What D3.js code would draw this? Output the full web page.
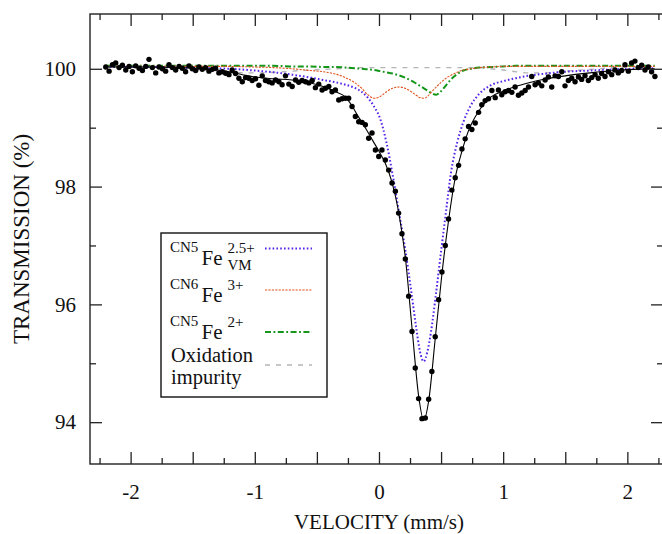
<!DOCTYPE html>
<html>
<head>
<meta charset="utf-8">
<script src="https://cdn.jsdelivr.net/npm/d3@7"></script>
<style>
  html, body { margin: 0; padding: 0; background: #ffffff; }
  svg { display: block; }
</style>
</head>
<body>
<svg id="chart" width="662" height="534"></svg>
<script>
// Room-temperature Mössbauer spectrum: measured channels, total fit and sub-spectra.

// Measured velocity channels (mm/s)
const velocity = [
  -2.200, -2.173, -2.146, -2.120, -2.093, -2.066, -2.039, -2.012, -1.986, -1.959,
  -1.932, -1.905, -1.878, -1.852, -1.825, -1.798, -1.771, -1.744, -1.718, -1.691,
  -1.664, -1.637, -1.610, -1.584, -1.557, -1.530, -1.503, -1.476, -1.450, -1.423,
  -1.396, -1.369, -1.342, -1.316, -1.289, -1.262, -1.235, -1.208, -1.182, -1.155,
  -1.128, -1.101, -1.074, -1.048, -1.021, -0.994, -0.967, -0.940, -0.914, -0.887,
  -0.860, -0.833, -0.806, -0.780, -0.753, -0.726, -0.699, -0.672, -0.646, -0.619,
  -0.592, -0.565, -0.538, -0.512, -0.485, -0.458, -0.431, -0.404, -0.378, -0.351,
  -0.324, -0.297, -0.270, -0.244, -0.217, -0.190, -0.163, -0.136, -0.110, -0.083,
  -0.056, -0.029, -0.002, 0.024, 0.051, 0.078, 0.105, 0.132, 0.158, 0.185,
  0.212, 0.239, 0.266, 0.292, 0.319, 0.346, 0.373, 0.400, 0.426, 0.453,
  0.480, 0.507, 0.534, 0.560, 0.587, 0.614, 0.641, 0.668, 0.694, 0.721,
  0.748, 0.775, 0.802, 0.828, 0.855, 0.882, 0.909, 0.936, 0.962, 0.989,
  1.016, 1.043, 1.070, 1.096, 1.123, 1.150, 1.177, 1.204, 1.230, 1.257,
  1.284, 1.311, 1.338, 1.364, 1.391, 1.418, 1.445, 1.472, 1.498, 1.525,
  1.552, 1.579, 1.606, 1.632, 1.659, 1.686, 1.713, 1.740, 1.766, 1.793,
  1.820, 1.847, 1.874, 1.900, 1.927, 1.954, 1.981, 2.008, 2.034, 2.061,
  2.088, 2.115, 2.142, 2.168, 2.195, 2.222
];

// Measured transmission (%)
const transmission = [
  100.03, 99.96, 100.07, 100.10, 100.02, 100.06, 99.98, 100.04, 99.95, 100.05,
  100.01, 99.97, 100.04, 100.16, 100.02, 99.93, 100.03, 100.00, 99.96, 100.07,
  100.02, 99.98, 100.04, 100.01, 99.95, 100.05, 100.00, 99.97, 100.03, 99.99,
  100.02, 99.96, 99.99, 100.01, 99.93, 99.95, 99.925, 99.90, 99.98, 99.92,
  99.84, 99.78, 99.85, 99.84, 99.80, 99.83, 99.72, 99.88, 99.80, 99.78,
  99.76, 99.81, 99.78, 99.73, 99.88, 99.74, 99.70, 99.81, 99.77, 99.80,
  99.78, 99.76, 99.80, 99.68, 99.74, 99.64, 99.67, 99.70, 99.61, 99.64,
  99.47, 99.49, 99.50, 99.50, 99.36, 99.19, 99.10, 99.09, 99.05, 98.82,
  98.91, 98.62, 98.51, 98.62, 98.45, 98.28, 98.06, 97.92, 97.55, 97.20,
  96.77, 96.14, 95.54, 94.92, 94.40, 94.06, 94.07, 94.39, 94.86, 95.45,
  96.08, 96.55, 97.00, 97.45, 97.94, 98.15, 98.36, 98.64, 98.81, 99.02,
  98.97, 99.08, 99.26, 99.39, 99.46, 99.49, 99.63, 99.51, 99.64, 99.56,
  99.61, 99.63, 99.60, 99.69, 99.55, 99.59, 99.63, 99.69, 99.87, 99.73,
  99.76, 99.71, 99.81, 99.86, 99.69, 99.88, 99.87, 99.95, 99.71, 99.80,
  99.84, 99.78, 99.86, 99.82, 99.88, 99.80, 99.85, 99.90, 99.84, 99.92,
  99.87, 99.95, 99.90, 99.98, 99.93, 99.97, 100.07, 99.96, 100.10, 100.13,
  100.02, 100.06, 99.98, 100.03, 99.95, 99.87
];

// Velocities at which the sub-spectra are tabulated (mm/s)
const curveVelocity = [
  -2.2, -1.9, -1.6, -1.4, -1.2, -1.0, -0.85, -0.7, -0.55, -0.45,
  -0.35, -0.27, -0.2, -0.14, -0.09, -0.04, 0.01, 0.06, 0.11, 0.16,
  0.21, 0.26, 0.3, 0.33, 0.36, 0.39, 0.42, 0.46, 0.5, 0.54,
  0.58, 0.63, 0.68, 0.74, 0.81, 0.9, 1.0, 1.1, 1.2, 1.35,
  1.5, 1.7, 1.9, 2.05, 2.22
];

// CN5 Fe 2.5+ (valence-mixed) sub-spectrum
const feVM = [
  100.03, 100.03, 100.02, 100.01, 100.0, 99.97, 99.94, 99.90, 99.85, 99.81,
  99.77, 99.73, 99.68, 99.61, 99.51, 99.36, 99.15, 98.75, 98.2, 97.58,
  96.95, 96.22, 95.6, 95.2, 95.03, 95.2, 95.55, 96.2, 96.9, 97.58,
  98.24, 98.75, 99.1, 99.38, 99.58, 99.72, 99.79, 99.84, 99.88, 99.92,
  99.95, 99.97, 99.99, 100.0, 100.01
];

// CN6 Fe 3+ doublet
const fe3 = [
  100.04, 100.04, 100.04, 100.04, 100.04, 100.03, 100.02, 100.0, 99.97, 99.95,
  99.91, 99.85, 99.77, 99.67, 99.56, 99.50, 99.53, 99.61, 99.67, 99.69,
  99.67, 99.61, 99.55, 99.51, 99.50, 99.53, 99.60, 99.69, 99.77, 99.84,
  99.89, 99.94, 99.98, 100.0, 100.02, 100.03, 100.04, 100.04, 100.04, 100.04,
  100.04, 100.04, 100.04, 100.04, 100.04
];

// CN5 Fe 2+ component
const fe2 = [
  100.05, 100.05, 100.05, 100.05, 100.05, 100.05, 100.05, 100.04, 100.04, 100.03,
  100.03, 100.02, 100.01, 100.0, 99.99, 99.98, 99.96, 99.94, 99.92, 99.89,
  99.85, 99.80, 99.75, 99.71, 99.67, 99.63, 99.59, 99.56, 99.62, 99.72,
  99.82, 99.91, 99.97, 100.0, 100.02, 100.03, 100.04, 100.05, 100.05, 100.05,
  100.05, 100.05, 100.05, 100.05, 100.05
];

// Oxidation impurity doublet
const impurity = [
  100.04, 100.03, 100.01, 99.98, 99.94, 99.93, 99.94, 99.96, 99.98, 99.99,
  100.0, 100.01, 100.02, 100.02, 100.02, 100.02, 100.02, 100.02, 100.02, 100.02,
  100.02, 100.02, 100.02, 100.02, 100.02, 100.02, 100.02, 100.02, 100.02, 100.02,
  100.02, 100.02, 100.02, 100.02, 100.02, 100.0, 99.98, 99.95, 99.93, 99.93,
  99.96, 99.99, 100.02, 100.03, 100.03
];

// Total fitted envelope
const fitVelocity = [
  -2.2, -1.9, -1.6, -1.4, -1.24, -1.1, -1.0, -0.85, -0.7, -0.55,
  -0.45, -0.35, -0.27, -0.22, -0.17, -0.11, -0.05, 0.0, 0.05, 0.105,
  0.158, 0.212, 0.266, 0.319, 0.36, 0.4, 0.453, 0.507, 0.56, 0.614,
  0.668, 0.721, 0.8, 0.9, 1.0, 1.1, 1.2, 1.35, 1.5, 1.7,
  1.9, 2.05, 2.22
];
const fitTotal = [
  100.03, 100.03, 100.02, 100.0, 99.96, 99.9, 99.86, 99.83, 99.81, 99.76,
  99.70, 99.61, 99.52, 99.38, 99.2, 99.0, 98.78, 98.6, 98.4, 98.07,
  97.57, 96.8, 95.6, 94.45, 94.03, 94.36, 95.42, 96.52, 97.42, 98.15,
  98.6, 98.95, 99.27, 99.52, 99.62, 99.70, 99.76, 99.83, 99.88, 99.93,
  99.97, 99.99, 100.0
];

// Axis ticks
const xMajorTicks = [-2, -1.5, -1, -0.5, 0, 0.5, 1, 1.5, 2];
const xMinorTicks = [-2.25, -1.75, -1.25, -0.75, -0.25, 0.25, 0.75, 1.25, 1.75, 2.25];
const yMajorTicks = [94, 96, 98, 100];
const yMinorTicks = [95, 97, 99];

// Legend entries
const legendItems = [
  { pre: "CN5", sup: "2.5+", sub: "VM", color: "#5524e8", dash: "1.6,2.2", width: 2 },
  { pre: "CN6", sup: "3+",   sub: "",   color: "#e0531f", dash: "2.2,1.2", width: 1.1 },
  { pre: "CN5", sup: "2+",   sub: "",   color: "#15961a", dash: "6,2.5,1.8,2.5", width: 2 },
  { lines: ["Oxidation", "impurity"], color: "#b5b5b5", dash: "5,6", width: 1.4 }
];

const SERIF = "Liberation Serif, Times New Roman, Times, DejaVu Serif, Liberation Sans, sans-serif";
const plot = { left: 90, right: 663, top: 14, bottom: 464 };

const x = d3.scaleLinear().domain([-2.327, 2.287]).range([plot.left, plot.right]);
const y = d3.scaleLinear().domain([93.29, 100.93]).range([plot.bottom, plot.top]);

const svg = d3.select("#chart").style("font-family", SERIF);

// Sub-spectra
const series = [
  { values: impurity, style: legendItems[3] },
  { values: fe2, style: legendItems[2] },
  { values: fe3, style: legendItems[1] },
  { values: feVM, style: legendItems[0] }
];

const curveLine = d3.line()
  .x(d => x(d[0]))
  .y(d => y(d[1]))
  .curve(d3.curveMonotoneX);

svg.append("g").attr("class", "components")
  .selectAll("path")
  .data(series)
  .join("path")
  .attr("d", s => curveLine(curveVelocity.map((v, i) => [v, s.values[i]])))
  .attr("fill", "none")
  .attr("stroke", s => s.style.color)
  .attr("stroke-width", s => s.style.width)
  .attr("stroke-dasharray", s => s.style.dash);

// Total fit
svg.append("path")
  .attr("d", curveLine(fitVelocity.map((v, i) => [v, fitTotal[i]])))
  .attr("fill", "none")
  .attr("stroke", "#000")
  .attr("stroke-width", 1.1);

// Measured points
svg.append("g").attr("class", "points")
  .selectAll("circle")
  .data(velocity.map((v, i) => [v, transmission[i]]))
  .join("circle")
  .attr("cx", d => x(d[0]))
  .attr("cy", d => y(d[1]))
  .attr("r", 2.7)
  .attr("fill", "#000");

// Axes: inward ticks on all four sides
const fontSize = 21;
function styleAxis(g) {
  g.attr("font-family", null).attr("font-size", null);
  g.select(".domain").remove();
  g.selectAll(".tick line").attr("stroke", "#222").attr("stroke-width", 1.3);
  g.selectAll("text").attr("fill", "#111")
    .style("font-family", SERIF).style("font-size", fontSize + "px");
}
const labelFmt = d => Number.isInteger(d) ? String(d) : "";

svg.append("g").attr("transform", `translate(0,${plot.bottom})`)
  .call(d3.axisBottom(x).tickValues(xMajorTicks).tickSize(-12).tickPadding(20).tickFormat(labelFmt))
  .call(styleAxis);
svg.append("g").attr("transform", `translate(0,${plot.bottom})`)
  .call(d3.axisBottom(x).tickValues(xMinorTicks).tickSize(-6).tickFormat(""))
  .call(styleAxis);
svg.append("g").attr("transform", `translate(0,${plot.top})`)
  .call(d3.axisTop(x).tickValues(xMajorTicks).tickSize(-12).tickFormat(""))
  .call(styleAxis);
svg.append("g").attr("transform", `translate(0,${plot.top})`)
  .call(d3.axisTop(x).tickValues(xMinorTicks).tickSize(-6).tickFormat(""))
  .call(styleAxis);

svg.append("g").attr("transform", `translate(${plot.left},0)`)
  .call(d3.axisLeft(y).tickValues(yMajorTicks).tickSize(-12).tickPadding(14).tickFormat(d => String(d)))
  .call(styleAxis);
svg.append("g").attr("transform", `translate(${plot.left},0)`)
  .call(d3.axisLeft(y).tickValues(yMinorTicks).tickSize(-6).tickFormat(""))
  .call(styleAxis);
svg.append("g").attr("transform", `translate(${plot.right},0)`)
  .call(d3.axisRight(y).tickValues(yMajorTicks).tickSize(-12).tickFormat(""))
  .call(styleAxis);
svg.append("g").attr("transform", `translate(${plot.right},0)`)
  .call(d3.axisRight(y).tickValues(yMinorTicks).tickSize(-6).tickFormat(""))
  .call(styleAxis);

// Frame
svg.append("rect")
  .attr("x", plot.left).attr("y", plot.top)
  .attr("width", plot.right - plot.left).attr("height", plot.bottom - plot.top)
  .attr("fill", "none").attr("stroke", "#222").attr("stroke-width", 1.4);

// Axis titles
svg.append("text")
  .attr("x", x(0)).attr("y", 529)
  .attr("text-anchor", "middle")
  .style("font-family", SERIF).style("font-size", fontSize + "px")
  .attr("fill", "#111")
  .text("VELOCITY (mm/s)");
svg.append("text")
  .attr("transform", `translate(29,${(plot.top + plot.bottom) / 2}) rotate(-90)`)
  .attr("text-anchor", "middle")
  .style("font-family", SERIF).style("font-size", "23px")
  .attr("fill", "#111")
  .text("TRANSMISSION (%)");

// Legend
const legend = svg.append("g").attr("class", "legend").attr("fill", "#111");
legend.append("rect")
  .attr("x", 161).attr("y", 233).attr("width", 166).attr("height", 164)
  .attr("fill", "#fff").attr("stroke", "#111").attr("stroke-width", 1.4);

function legendText(xp, yp, size, s) {
  legend.append("text").attr("x", xp).attr("y", yp)
    .style("font-family", SERIF).style("font-size", size + "px").text(s);
}
const rowBase = [265, 301.5, 339, 362];
const sampleY = [248.5, 290, 332, 365];
legendItems.forEach((item, i) => {
  if (item.lines) {
    item.lines.forEach((s, j) => legendText(171, rowBase[i] + j * 21.5, 20.5, s));
  } else {
    legendText(170, rowBase[i] - 13, 15, item.pre);
    legendText(201.5, rowBase[i], fontSize, "Fe");
    legendText(227.5, rowBase[i] - 12, 15, item.sup);
    if (item.sub) legendText(227.5, rowBase[i] + 5, 15, item.sub);
  }
  legend.append("line")
    .attr("x1", 265).attr("x2", 312)
    .attr("y1", sampleY[i]).attr("y2", sampleY[i])
    .attr("stroke", item.color)
    .attr("stroke-width", item.width)
    .attr("stroke-dasharray", item.dash);
});
</script>
</body>
</html>
